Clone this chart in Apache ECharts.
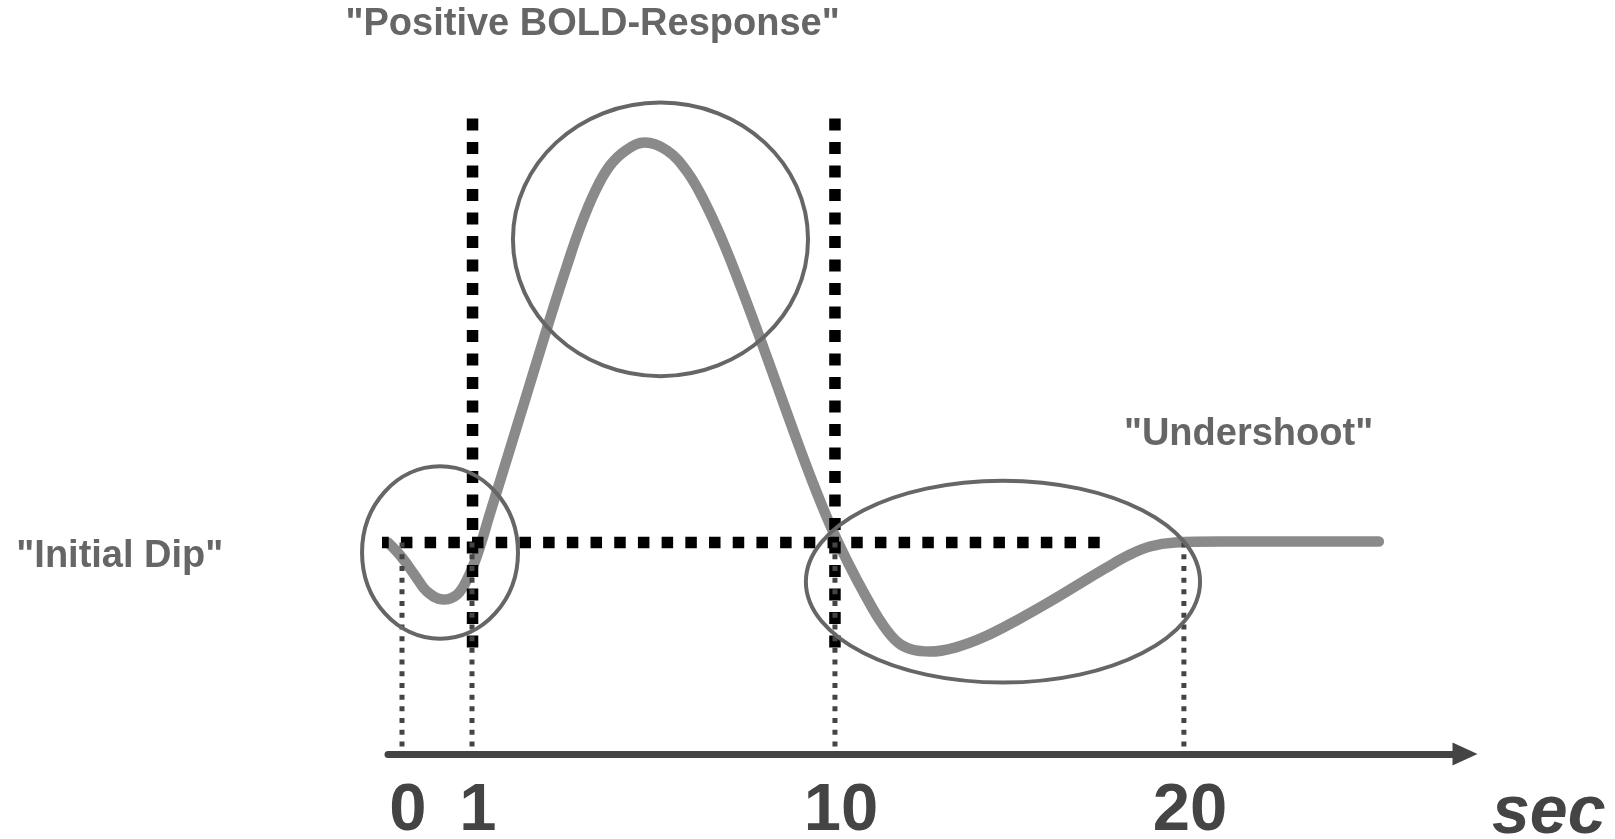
<!DOCTYPE html>
<html>
<head>
<meta charset="utf-8">
<script src="https://cdn.jsdelivr.net/npm/echarts@6/dist/echarts.min.js"></script>
<style>
html,body{margin:0;padding:0;background:#fff;}
#c{width:1615px;height:839px;}
</style>
</head>
<body>
<div id="c"></div>
<script>
// Schematic units: x runs 0..100 along the drawn time axis (not to scale),
// y is the signal relative to baseline (peak ~ 100).
const curveX = [0, 1.30, 2.51, 3.62, 5.11, 6.41, 7.43, 8.36, 9.47, 10.68, 11.88, 13.09, 14.30, 15.51, 16.62, 17.83, 19.22, 20.61, 22.19, 23.86, 25.91, 27.76, 29.43, 31.01, 32.68, 34.35, 36.03, 37.70, 39.37, 41.04, 42.71, 44.38, 45.87, 47.35, 48.65, 50.33, 52.65, 55.43, 58.68, 61.47, 64.25, 66.57, 68.71, 70.75, 73.07, 77.25, 92.0];
const curveY = [0, -3.76, -8.27, -12.28, -14.29, -13.04, -8.77, -2.51, 7.27, 17.80, 28.33, 38.98, 49.64, 60.17, 69.44, 78.97, 87.99, 94.51, 98.52, 100.28, 98.27, 93.01, 85.23, 75.96, 64.68, 52.64, 40.11, 27.58, 15.54, 4.51, -5.01, -13.54, -20.31, -25.07, -26.82, -27.32, -26.32, -23.56, -19.05, -14.79, -10.28, -6.52, -3.26, -1.0, 0, 0.25, 0.25];

const tickPositions = [1.3, 7.8, 41.5, 73.9];
const tickLabels = ['0', '1', '10', '20'];
const axisName = 'sec';

const phaseBoundaryX = [7.85, 41.5];
const phaseBoundaryTop = 106.3;
const phaseBoundaryBottom = -26.3;

const baselineFrom = -1.0;
const baselineTo = 66.1;
const guideTop = 0;
const guideBottom = -52;

const ellipseCX = [4.83, 25.3, 57.1];
const ellipseCY = [-2.5, 76.0, -9.8];
const ellipseRX = [7.24, 13.7, 18.3];
const ellipseRY = [21.6, 34.3, 25.3];

const annotationText = ['"Initial Dip"', '"Positive BOLD-Response"', '"Undershoot"'];
const annotationX = [-24.9, 19.0, 79.9];
const annotationY = [-3.5, 129.9, 27.1];

const FONT = '"Liberation Sans", Arial, sans-serif';

const series = [];

// response curve
series.push({
  type: 'line', z: 2, clip: false, smooth: 0.4, symbol: 'none',
  data: curveX.map((x, i) => [x, curveY[i]]),
  lineStyle: { color: '#8a8a8a', width: 10.5, cap: 'round', join: 'round' }
});

// thick dotted horizontal baseline
series.push({
  type: 'line', z: 3, clip: false, symbol: 'none',
  data: [[baselineFrom, 0], [baselineTo, 0]],
  lineStyle: { color: '#000', width: 11.5, type: [11.5, 12.2], cap: 'butt' }
});

// thick dotted verticals
phaseBoundaryX.forEach(x => {
  series.push({
    type: 'line', z: 3, clip: false, symbol: 'none',
    data: [[x, phaseBoundaryTop], [x, phaseBoundaryBottom]],
    lineStyle: { color: '#000', width: 11.5, type: [12, 11.5], cap: 'butt' }
  });
});

// thin dotted guides down to the axis
tickPositions.forEach(x => {
  series.push({
    type: 'line', z: 4, clip: false, symbol: 'none',
    data: [[x, guideTop], [x, guideBottom]],
    lineStyle: { color: '#444', width: 5, type: [5, 6.7], cap: 'butt' }
  });
});

// ellipses
series.push({
  type: 'custom', z: 5, clip: false,
  data: ellipseCX.map((cx, i) => [cx, ellipseCY[i], ellipseRX[i], ellipseRY[i]]),
  encode: { x: 0, y: 1 },
  renderItem: function (params, api) {
    const c = api.coord([api.value(0), api.value(1)]);
    const s = api.size([api.value(2), api.value(3)]);
    return {
      type: 'ellipse',
      shape: { cx: c[0], cy: c[1], rx: s[0], ry: s[1] },
      style: { fill: 'none', stroke: '#666', lineWidth: 4 }
    };
  }
});

// annotations
series.push({
  type: 'scatter', z: 6, clip: false, symbolSize: 1,
  itemStyle: { color: 'rgba(0,0,0,0)', opacity: 1 },
  data: annotationX.map((x, i) => ({ value: [x, annotationY[i]], name: annotationText[i] })),
  label: {
    show: true, position: 'inside', formatter: p => p.name,
    color: '#666', fontSize: 38, fontWeight: 'bold', fontFamily: FONT
  }
});

const chart = echarts.init(document.getElementById('c'), null, { renderer: 'canvas' });
chart.setOption({
  animation: false,
  backgroundColor: '#fff',
  grid: { left: 388, right: 150, top: 0, bottom: 85, outerBoundsMode: 'none', containLabel: false },
  xAxis: {
    type: 'value', min: 0, max: 100,
    splitLine: { show: false },
    axisLine: {
      show: true, onZero: false,
      lineStyle: { color: '#444', width: 7 },
      symbol: ['none', 'triangle'], symbolSize: [23, 25]
    },
    axisTick: { show: false },
    axisLabel: {
      customValues: tickPositions,
      formatter: v => { const i = tickPositions.indexOf(v); return i >= 0 ? tickLabels[i] : ''; },
      color: '#444', fontSize: 67, fontWeight: 'bold', fontFamily: FONT,
      margin: 24, padding: [0, 0, 0, 12], hideOverlap: false
    },
    name: axisName, nameLocation: 'end', nameGap: 27,
    nameTextStyle: {
      color: '#444', fontSize: 68, fontWeight: 'bold', fontStyle: 'italic', fontFamily: FONT,
      align: 'left', verticalAlign: 'top', padding: [26, 0, 0, 0]
    }
  },
  yAxis: { type: 'value', min: -53, max: 136, show: false },
  series: series
});
</script>
</body>
</html>
